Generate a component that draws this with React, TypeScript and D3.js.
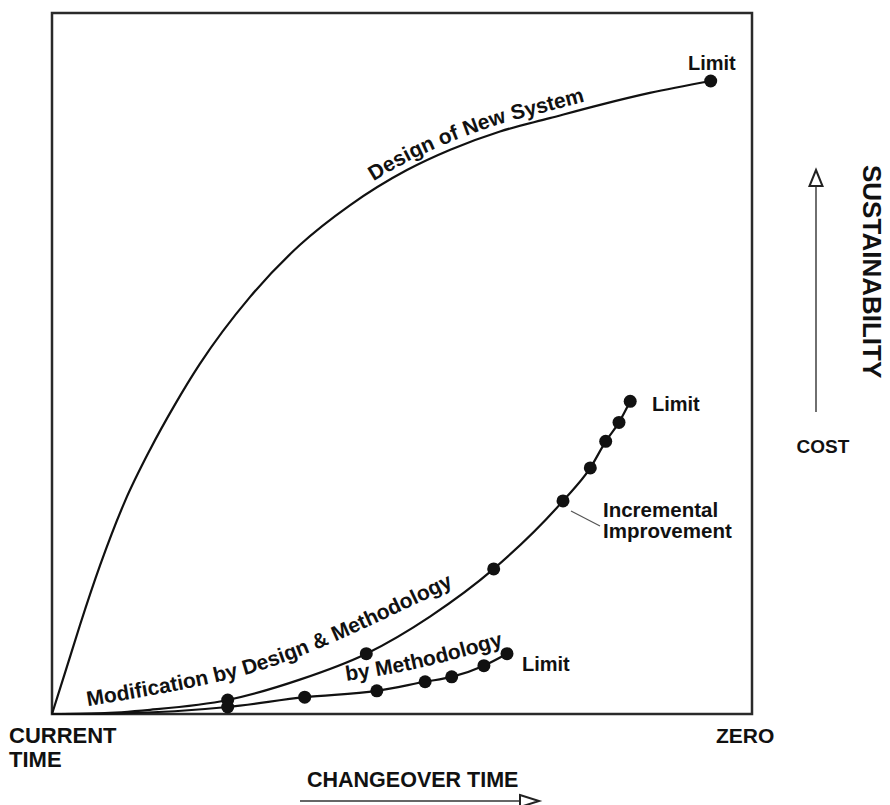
import React, { useEffect, useRef } from 'react';
import * as d3 from 'd3';

const W = 890;
const H = 805;

// x: changeover time, 0 = current time, 100 = zero ; y: sustainability (0-100)
const designX = [0, 1.9, 4, 6.9, 10.4, 14, 17.6, 21.1, 28.3, 35.4, 42.6, 50.7, 56.9, 64, 71.1, 78.3, 85.4, 94.1];
const designY = [0, 6.0, 12.7, 21.3, 30.3, 37.7, 44.2, 49.9, 59.5, 66.9, 72.6, 77.6, 80.5, 83.1, 85.0, 86.9, 88.6, 90.3];
const designDots = [17];

const modX = [0, 6.9, 14, 25.1, 35.4, 44.9, 54, 63.1, 73, 76.9, 79.1, 81, 82.6];
const modY = [0, 0.1, 0.6, 2, 4.9, 8.6, 13.9, 20.7, 30.4, 35.1, 38.9, 41.6, 44.6];
const modDots = [3, 5, 7, 8, 9, 10, 11, 12];

const methX = [0, 9.7, 25.1, 36.1, 46.4, 53.3, 57.1, 61.7, 65];
const methY = [0, 0.1, 1, 2.4, 3.3, 4.6, 5.3, 6.9, 8.6];
const methDots = [2, 3, 4, 5, 6, 7, 8];

// label guide baselines (data units)
const modLabelX = [5.1, 21.1, 36.8, 59.7];
const modLabelY = [1.1, 4.0, 8.8, 19.4];
const methLabelX = [42.1, 52.6, 65.4];
const methLabelY = [4.7, 6.6, 10.0];

const FONT = "'Liberation Sans', Arial, Helvetica, sans-serif";

export default function App() {
  const ref = useRef<SVGSVGElement>(null);

  useEffect(() => {
    const svg = d3.select(ref.current);
    svg.selectAll('*').remove();

    const x = d3.scaleLinear().domain([0, 100]).range([52, 752]);
    const y = d3.scaleLinear().domain([0, 100]).range([714, 13]);
    const line = d3
      .line<[number, number]>()
      .x((d) => x(d[0]))
      .y((d) => y(d[1]))
      .curve(d3.curveMonotoneX);
    const guide = d3
      .line<[number, number]>()
      .x((d) => x(d[0]))
      .y((d) => y(d[1]))
      .curve(d3.curveNatural);

    const zip = (a: number[], b: number[]) => a.map((v, i) => [v, b[i]] as [number, number]);

    svg
      .append('rect')
      .attr('x', x(0))
      .attr('y', y(100))
      .attr('width', x(100) - x(0))
      .attr('height', y(0) - y(100))
      .attr('fill', 'none')
      .attr('stroke', '#2a2a2a')
      .attr('stroke-width', 2.5);

    const series = [
      { id: 'design', pts: zip(designX, designY), dots: designDots },
      { id: 'mod', pts: zip(modX, modY), dots: modDots },
      { id: 'meth', pts: zip(methX, methY), dots: methDots },
    ];

    series.forEach((s) => {
      svg
        .append('path')
        .attr('id', `curve-${s.id}`)
        .attr('d', line(s.pts))
        .attr('fill', 'none')
        .attr('stroke', '#111')
        .attr('stroke-width', 2.2);
      svg
        .selectAll(`circle.${s.id}`)
        .data(s.dots.map((i) => s.pts[i]))
        .join('circle')
        .attr('class', s.id)
        .attr('cx', (d) => x(d[0]))
        .attr('cy', (d) => y(d[1]))
        .attr('r', 6.5)
        .attr('fill', '#111');
    });

    const defs = svg.append('defs');
    defs.append('path').attr('id', 'guide-mod').attr('d', guide(zip(modLabelX, modLabelY)));
    defs.append('path').attr('id', 'guide-meth').attr('d', guide(zip(methLabelX, methLabelY)));

    const lbl = (sel: any) =>
      sel.attr('font-family', FONT).attr('font-weight', 'bold').attr('fill', '#111');

    // Design of New System along its curve
    const dpath = svg.select<SVGPathElement>('#curve-design').node()!;
    const total = dpath.getTotalLength();
    const targetX = 377;
    let lo = 0,
      hi = total;
    for (let k = 0; k < 40; k++) {
      const mid = (lo + hi) / 2;
      if (dpath.getPointAtLength(mid).x < targetX) lo = mid;
      else hi = mid;
    }
    const t1 = svg.append('text').attr('font-size', 21).attr('dy', -7);
    lbl(t1);
    t1.append('textPath').attr('href', '#curve-design').attr('startOffset', lo).text('Design of New System');

    const t2 = svg.append('text').attr('font-size', 21);
    lbl(t2);
    t2.append('textPath').attr('href', '#guide-mod').attr('startOffset', 0).text('Modification by Design & Methodology');

    const t3 = svg.append('text').attr('font-size', 21);
    lbl(t3);
    t3.append('textPath').attr('href', '#guide-meth').attr('startOffset', 0).text('by Methodology');

    const limits = [
      { x: 688, y: 70 },
      { x: 652, y: 411 },
      { x: 522, y: 671 },
    ];
    limits.forEach((p) => {
      lbl(svg.append('text').attr('x', p.x).attr('y', p.y).attr('font-size', 20)).text('Limit');
    });

    svg
      .append('line')
      .attr('x1', 571)
      .attr('y1', 511)
      .attr('x2', 600)
      .attr('y2', 526)
      .attr('stroke', '#555')
      .attr('stroke-width', 1.2);
    lbl(svg.append('text').attr('x', 603).attr('y', 517).attr('font-size', 20.5)).text('Incremental');
    lbl(svg.append('text').attr('x', 603).attr('y', 538).attr('font-size', 20.5)).text('Improvement');

    lbl(svg.append('text').attr('x', 9).attr('y', 743).attr('font-size', 22)).text('CURRENT');
    lbl(svg.append('text').attr('x', 9).attr('y', 767).attr('font-size', 22)).text('TIME');
    lbl(svg.append('text').attr('x', 716).attr('y', 743).attr('font-size', 21)).text('ZERO');
    lbl(svg.append('text').attr('x', 307).attr('y', 787).attr('font-size', 21.5)).text('CHANGEOVER TIME');

    svg.append('line').attr('x1', 300).attr('y1', 801).attr('x2', 520).attr('y2', 801).attr('stroke', '#333').attr('stroke-width', 1.4);
    svg
      .append('path')
      .attr('d', 'M520,795 L539,801 L520,807 Z')
      .attr('fill', '#fff')
      .attr('stroke', '#222')
      .attr('stroke-width', 2);

    svg.append('line').attr('x1', 816).attr('y1', 186).attr('x2', 816).attr('y2', 412).attr('stroke', '#333').attr('stroke-width', 1.4);
    svg
      .append('path')
      .attr('d', 'M816,170 L822.5,186 L809.5,186 Z')
      .attr('fill', '#fff')
      .attr('stroke', '#222')
      .attr('stroke-width', 2);
    lbl(svg.append('text').attr('x', 823).attr('y', 453).attr('font-size', 19).attr('text-anchor', 'middle')).text('COST');

    lbl(
      svg
        .append('text')
        .attr('transform', 'translate(863,165) rotate(90)')
        .attr('font-size', 26)
    ).text('SUSTAINABILITY');
  }, []);

  return (
    <svg
      ref={ref}
      width={W}
      height={H}
      style={{ position: 'absolute', left: 0, top: 0, background: '#fff' }}
    />
  );
}
